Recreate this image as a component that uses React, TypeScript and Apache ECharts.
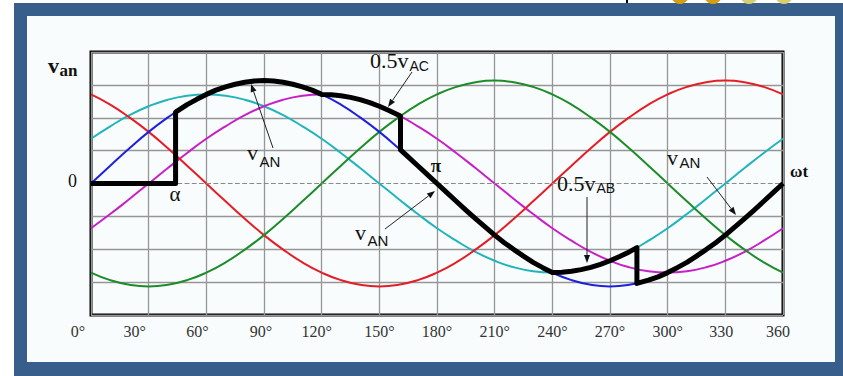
import React, { useEffect, useRef } from "react";
import * as echarts from "echarts";

// angle (degrees) samples for the phase curves
const angles = [0, 10, 20, 30, 40, 50, 60, 70, 80, 90, 100, 110, 120, 130, 140, 150, 160, 170, 180, 190, 200, 210, 220, 230, 240, 250, 260, 270, 280, 290, 300, 310, 320, 330, 340, 350, 360];

const redVals = [2.71, 2.40, 2.01, 1.57, 1.07, 0.54, 0, -0.54, -1.07, -1.57, -2.01, -2.40, -2.71, -2.94, -3.08, -3.13, -3.08, -2.94, -2.71, -2.40, -2.01, -1.57, -1.07, -0.54, 0, 0.54, 1.07, 1.57, 2.01, 2.40, 2.71, 2.94, 3.08, 3.13, 3.08, 2.94, 2.71];
const greenVals = [-2.71, -2.94, -3.08, -3.13, -3.08, -2.94, -2.71, -2.40, -2.01, -1.57, -1.07, -0.54, 0, 0.54, 1.07, 1.57, 2.01, 2.40, 2.71, 2.94, 3.08, 3.13, 3.08, 2.94, 2.71, 2.40, 2.01, 1.57, 1.07, 0.54, 0, -0.54, -1.07, -1.57, -2.01, -2.40, -2.71];
const blueVals = [0, 0.54, 1.07, 1.57, 2.01, 2.40, 2.71, 2.94, 3.08, 3.13, 3.08, 2.94, 2.71, 2.40, 2.01, 1.57, 1.07, 0.54, 0, -0.54, -1.07, -1.57, -2.01, -2.40, -2.71, -2.94, -3.08, -3.13, -3.08, -2.94, -2.71, -2.40, -2.01, -1.57, -1.07, -0.54, 0];
const cyanVals = [1.36, 1.74, 2.08, 2.35, 2.55, 2.67, 2.71, 2.67, 2.55, 2.35, 2.08, 1.74, 1.36, 0.93, 0.47, 0, -0.47, -0.93, -1.36, -1.74, -2.08, -2.35, -2.55, -2.67, -2.71, -2.67, -2.55, -2.35, -2.08, -1.74, -1.36, -0.93, -0.47, 0, 0.47, 0.93, 1.36];
const magentaVals = [-1.36, -0.93, -0.47, 0, 0.47, 0.93, 1.36, 1.74, 2.08, 2.35, 2.55, 2.67, 2.71, 2.67, 2.55, 2.35, 2.08, 1.74, 1.36, 0.93, 0.47, 0, -0.47, -0.93, -1.36, -1.74, -2.08, -2.35, -2.55, -2.67, -2.71, -2.67, -2.55, -2.35, -2.08, -1.74, -1.36];

// thick output voltage v_AN
const vanAngles = [0, 44, 44, 50, 55, 60, 65, 70, 75, 80, 85, 90, 95, 100, 105, 110, 115, 120, 125, 130, 135, 140, 145, 150, 155, 161, 161, 165, 170, 175, 180, 185, 190, 195, 200, 205, 210, 215, 220, 225, 230, 235, 240, 245, 250, 255, 260, 265, 270, 275, 280, 284, 284, 290, 295, 300, 305, 310, 315, 320, 325, 330, 335, 340, 345, 350, 355, 360];
const vanVals = [0, 0, 2.17, 2.40, 2.56, 2.71, 2.84, 2.94, 3.02, 3.08, 3.12, 3.13, 3.12, 3.08, 3.02, 2.94, 2.84, 2.71, 2.70, 2.67, 2.62, 2.55, 2.46, 2.35, 2.22, 2.05, 1.02, 0.81, 0.54, 0.27, 0, -0.27, -0.54, -0.81, -1.07, -1.32, -1.57, -1.80, -2.01, -2.21, -2.40, -2.56, -2.71, -2.70, -2.67, -2.62, -2.55, -2.46, -2.35, -2.22, -2.08, -1.95, -3.04, -2.94, -2.84, -2.71, -2.56, -2.40, -2.21, -2.01, -1.80, -1.57, -1.32, -1.07, -0.81, -0.54, -0.27, 0];

const tickValues = [0, 30, 60, 90, 120, 150, 180, 210, 240, 270, 300, 330, 360];
const tickLabels = ["0°", "30°", "60°", "90°", "120°", "150°", "180°", "210°", "240°", "270°", "300°", "330", "360"];

const SERIF = '"Liberation Serif", "Times New Roman", serif';
const SANS = '"Liberation Sans", Arial, sans-serif';

function txt(text: string, x: number, y: number, font: string, align = "left") {
  return {
    type: "text",
    x,
    y,
    z: 50,
    silent: true,
    style: { text, font, fill: "#111", textAlign: align, textVerticalAlign: "middle" },
  };
}

function arrow(x1: number, y1: number, x2: number, y2: number) {
  const dx = x2 - x1;
  const dy = y2 - y1;
  const L = Math.hypot(dx, dy);
  const ux = dx / L;
  const uy = dy / L;
  const bx = x2 - ux * 8;
  const by = y2 - uy * 8;
  return [
    { type: "line", z: 50, silent: true, shape: { x1, y1, x2: bx, y2: by }, style: { stroke: "#222", lineWidth: 1 } },
    {
      type: "polygon",
      z: 50,
      silent: true,
      shape: { points: [[x2, y2], [bx - uy * 3, by + ux * 3], [bx + uy * 3, by - ux * 3]] },
      style: { fill: "#111" },
    },
  ];
}

export default function App() {
  const ref = useRef<HTMLDivElement>(null);

  useEffect(() => {
    const chart = echarts.init(ref.current!, null, { renderer: "svg" });

    const labelShift: Record<number, number> = { 0: 13, 30: 14, 60: 9, 90: 3, 120: 5, 330: 4, 360: 5 };
    const rich: Record<string, any> = {};
    tickValues.forEach((v) => {
      const s = labelShift[v] || 0;
      rich["t" + v] = {
        fontFamily: SERIF,
        fontSize: 16,
        color: "#333",
        padding: [0, 2 * s, 0, 0],
      };
    });

    const line = (name: string, vals: number[], color: string) => ({
      name,
      type: "line",
      data: angles.map((a, i) => [a, vals[i]]),
      smooth: true,
      showSymbol: false,
      symbol: "none",
      lineStyle: { color, width: 2 },
      z: 3,
      silent: true,
    });

    const option: any = {
      animation: false,
      backgroundColor: "transparent",
      grid: {
        left: 91,
        top: 52,
        width: 692,
        height: 263,
        show: true,
        borderColor: "#000",
        borderWidth: 3,
        backgroundColor: "transparent",
      },
      xAxis: {
        type: "value",
        min: 0,
        max: 360,
        interval: 30,
        axisLine: { show: false },
        axisTick: { show: false },
        splitLine: { show: true, lineStyle: { color: "#969696", width: 1.3 } },
        axisLabel: {
          margin: 8,
          fontFamily: SERIF,
          fontSize: 16,
          color: "#333",
          formatter: (v: number) => {
            const i = tickValues.indexOf(v);
            return i < 0 ? "" : `{t${v}|${tickLabels[i]}}`;
          },
          rich,
        },
      },
      yAxis: {
        type: "value",
        min: -4,
        max: 4,
        interval: 1,
        axisLine: { show: false },
        axisTick: { show: false },
        axisLabel: { show: false },
        splitLine: {
          show: true,
          lineStyle: {
            color: ["#969696", "#969696", "#969696", "#969696", "rgba(0,0,0,0)", "#969696", "#969696", "#969696", "#969696"],
            width: 1.3,
          },
        },
      },
      series: [
        {
          ...line("0.5vAB", cyanVals, "#22b4ba"),
          markLine: {
            silent: true,
            symbol: "none",
            label: { show: false },
            lineStyle: { type: "dashed", color: "#8a8a8a", width: 1.2 },
            data: [{ yAxis: 0 }],
          },
        },
        line("0.5vAC", magentaVals, "#c620c6"),
        line("vC", redVals, "#e41e26"),
        line("vB", greenVals, "#1e8c2a"),
        line("vA", blueVals, "#2020dc"),
        {
          name: "vAN",
          type: "line",
          data: vanAngles.map((a, i) => [a, vanVals[i]]),
          showSymbol: false,
          symbol: "none",
          lineStyle: { color: "#000", width: 5, join: "round" },
          z: 5,
          silent: true,
        },
      ],
      graphic: [
        // top-right cropped artifacts
        { type: "rect", silent: true, shape: { x: 626, y: 0, width: 2, height: 3 }, style: { fill: "#000" } },
        { type: "circle", silent: true, shape: { cx: 680, cy: -5, r: 9 }, style: { fill: "#d4a012" } },
        { type: "circle", silent: true, shape: { cx: 713, cy: -5, r: 9 }, style: { fill: "#d4a012" } },
        { type: "circle", silent: true, shape: { cx: 749, cy: -5, r: 9 }, style: { fill: "#d6cf72" } },
        { type: "circle", silent: true, shape: { cx: 784, cy: -5, r: 9 }, style: { fill: "#d6cf72" } },
        // axis names
        txt("v", 48, 65.6, `bold 22px ${SERIF}`),
        txt("an", 59.5, 70.5, `bold 17px ${SERIF}`),
        txt("0", 72.5, 181, `18px ${SERIF}`, "center"),
        txt("ωt", 790, 171, `bold 17px ${SERIF}`),
        txt("α", 175, 194, `21px ${SERIF}`, "center"),
        txt("π", 436, 165, `bold 19px ${SERIF}`, "center"),
        // 0.5 vAC
        txt("0.5v", 370, 60.5, `22px ${SERIF}`),
        txt("AC", 409.5, 66, `14px ${SANS}`),
        ...arrow(412, 72, 388, 107),
        // vAN near peak
        txt("v", 247, 152.6, `22px ${SERIF}`),
        txt("AN", 259.5, 161.5, `15px ${SANS}`),
        ...arrow(273, 148, 251, 84),
        // vAN lower
        txt("v", 355, 232.6, `22px ${SERIF}`),
        txt("AN", 367.5, 240.5, `15px ${SANS}`),
        ...arrow(385, 229, 435, 191),
        // 0.5 vAB
        txt("0.5v", 557, 183.5, `22px ${SERIF}`),
        txt("AB", 596.5, 188, `14px ${SANS}`),
        ...arrow(587, 197, 587, 263),
        // vAN right
        txt("v", 667, 157.6, `22px ${SERIF}`),
        txt("AN", 679.5, 162, `15px ${SANS}`),
        ...arrow(707, 177, 736, 215),
      ],
    };

    chart.setOption(option);
    return () => chart.dispose();
  }, []);

  return (
    <div style={{ position: "fixed", left: 0, top: 0, width: 843, height: 376, background: "#fff", overflow: "hidden" }}>
      <div style={{ position: "absolute", left: 14, top: 3, right: 0, bottom: 0, background: "#385f8c" }} />
      <div style={{ position: "absolute", left: 27, top: 16, width: 808, height: 346, background: "#f8fcfd" }} />
      <div ref={ref} style={{ position: "absolute", left: 0, top: 0, width: 843, height: 376 }} />
    </div>
  );
}
